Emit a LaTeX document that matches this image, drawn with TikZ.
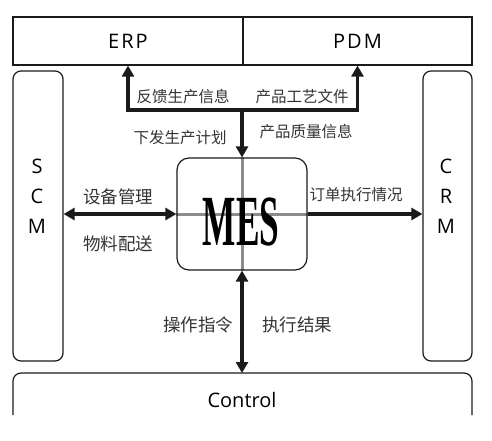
\documentclass[tikz,border=0pt]{standalone}
\usepackage{fontspec}
\newfontfamily\cjk{Noto Sans CJK SC}
\newfontfamily\sysfont{Open Sans}
\newfontfamily\spacedfont[LetterSpace=10]{Open Sans}
\newfontfamily\mesfont{Liberation Serif}
\usetikzlibrary{arrows.meta,backgrounds,positioning}

\definecolor{ink}{HTML}{1A1A1A}
\definecolor{labelgray}{HTML}{333333}

\begin{document}
\begin{tikzpicture}[x=1pt,y=-1pt,
    sysbox/.style={draw=ink, line width=1.2pt, inner sep=0pt},
    sidebox/.style={sysbox, minimum width=50pt, minimum height=290pt,
      rounded corners=8pt},
    sidetext/.style={align=center, inner sep=0pt,
      font=\sysfont\fontsize{20}{30}\selectfont},
    flow/.style={draw=ink, line width=3.6pt, line join=miter,
      -{Triangle[length=11pt,width=12pt]}},
    biflow/.style={flow, {Triangle[length=11pt,width=12pt]}-{Triangle[length=11pt,width=12pt]}},
    tag/.style={text=labelgray, font=\cjk\fontsize{15.5}{18}\selectfont, inner sep=0pt},
    bigtag/.style={tag, font=\cjk\fontsize{17.5}{20}\selectfont}]
  \useasboundingbox (0,0) rectangle (492,440);

  % systems round MES
  \begin{scope}[every node/.style={sysbox}]
    \node (erp) [minimum width=230pt, minimum height=48pt] at (128,41)
      {\spacedfont\fontsize{20}{24}\selectfont ERP};
    \node (pdm) [minimum width=229pt, minimum height=48pt] at (357.5,41)
      {\spacedfont\fontsize{20}{24}\selectfont PDM};
    \node (scm) [sidebox] at (38,216) {};
    \node (crm) [sidebox, minimum width=49pt] at (447.5,216) {};
    \node (mes) [minimum width=130pt, minimum height=112pt, rounded corners=12pt]
      at (242,214) {};
  \end{scope}
  \node (scmtext) [sidetext] at (37,196) {S\\C\\M};
  \node (crmtext) [sidetext] at (446,196) {C\\R\\M};

  % Control, cut off at the bottom
  \draw[ink, line width=1.2pt, rounded corners=8pt]
    (13,415) -- (13,373) -- (472,373) -- (472,415);
  \coordinate (ctop) at (242,373);
  \node (ctrl) at (242,400) {\sysfont\fontsize{20}{24}\selectfont Control};

  % grey cross behind MES
  \begin{scope}[on background layer]
    \draw[black!45, line width=3pt] (mes.west) -- (mes.east);
    \draw[black!45, line width=3pt] (mes.north) -- (mes.south);
  \end{scope}
  \node (meslabel) at (241,222)
    {\mesfont\bfseries\fontsize{72}{72}\selectfont\scalebox{0.49}[1]{MES}};

  % connectors
  \coordinate (jc) at (242,110);
  \coordinate (jl) at (erp.south |- jc);
  \coordinate (jr) at (pdm.south |- jc);
  \draw[biflow] (erp.south) -- (jl) -- (jr) -- (pdm.south);
  \draw[flow] (jc) -- (mes.north);
  \draw[biflow] (scm.east |- mes.west) -- (mes.west);
  \draw[flow] (mes.east) -- (crm.west |- mes.east);
  \draw[biflow] (mes.south) -- (ctop);

  % labels
  \node (fankui) [tag] at (183,97) {反馈生产信息};
  \node (gongyi) [tag] at (302,97) {产品工艺文件};
  \node (jihua) [tag] at (180,138) {下发生产计划};
  \node (zhiliang) [tag] at (306,132) {产品质量信息};
  \node (shebei) [bigtag] at (118,197) {设备管理};
  \node (wuliao) [bigtag] at (118,244) {物料配送};
  \node (dingdan) [tag] at (356,195) {订单执行情况};
  \node (caozuo) [bigtag] at (198,325) {操作指令};
  \node (jieguo) [bigtag] at (297,325) {执行结果};
\end{tikzpicture}
\end{document}
